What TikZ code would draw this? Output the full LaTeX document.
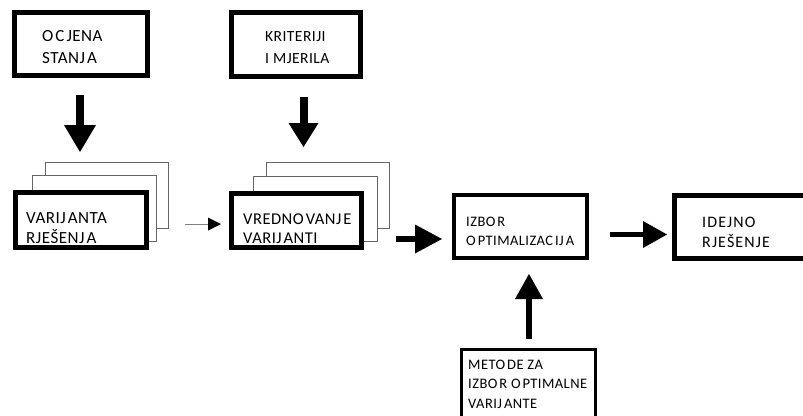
\documentclass[tikz,border=0pt]{standalone}
\usepackage{fontspec}
\setmainfont{Carlito}
\newfontfamily\boxfont[LetterSpace=3]{Carlito}
\newfontfamily\widefont[LetterSpace=7]{Carlito}
\usetikzlibrary{arrows.meta}
% small gap between letter groups
\newcommand{\gp}{\kern2pt}
\begin{document}
\begin{tikzpicture}[x=1pt,y=-1pt,
  box/.style={draw, fill=white, inner sep=0pt, anchor=north west},
  heavybox/.style={box, line width=5pt},
  midbox/.style={box, line width=4pt},
  lightbox/.style={box, line width=3pt},
  sheet/.style={box, line width=0.9pt, draw=black!60},
  txt/.style={anchor=base west, inner sep=0pt, align=left, font=\boxfont},
  fat/.style n args={3}{line width=#1,
    -{Triangle[length=#2, width=#3, line width=0pt]}},
  thin/.style={draw=black!50, line width=1pt,
    -{Triangle[length=13pt, width=13pt, line width=0pt, fill=black, color=black]}}]
\useasboundingbox (0,0) rectangle (803,415);
\clip (0,0) rectangle (803,415);

% top inputs (text nodes are placed by the baseline of their last line)
\node[heavybox, minimum width=133pt, minimum height=63pt] (ocjena) at (12,10) {};
\node[txt, font=\boxfont\fontsize{17}{21}\selectfont] (ocjenaT) at (42,63)
  {O\gp C\gp JENA\\STANJ\gp A};

\node[heavybox, minimum width=129pt, minimum height=64pt] (krit) at (229,10) {};
\node[txt, font=\boxfont\fontsize{15.5}{22}\selectfont] (kritT) at (265,63)
  {KRITERIJI\\I MJERILA};

% stacked sheets: variants
\node[sheet, minimum width=123pt, minimum height=66pt] (var3) at (45,162) {};
\node[sheet, minimum width=124pt, minimum height=66pt] (var2) at (32,175) {};
\node[heavybox, minimum width=131pt, minimum height=55pt] (var) at (12.5,190) {};
\node[txt, font=\boxfont\fontsize{17}{20}\selectfont] (varT) at (26,243)
  {VARIJ\gp ANTA\\RJEŠENJ\gp A};

% stacked sheets: evaluation
\node[sheet, minimum width=123pt, minimum height=66pt] (vre3) at (266,162) {};
\node[sheet, minimum width=124pt, minimum height=65pt] (vre2) at (253,176) {};
\node[heavybox, minimum width=129.5pt, minimum height=54.5pt] (vre) at (229,190.5) {};
\node[txt, font=\boxfont\fontsize{16.5}{19.5}\selectfont] (vreT) at (243,243.5)
  {VREDNO\gp VANJ\gp E\\VARIJ\gp ANTI};

% selection and result
\node[midbox, minimum width=133pt, minimum height=63pt] (izbor) at (452,193) {};
\node[txt, font=\boxfont\fontsize{14.5}{19}\selectfont] (izborT) at (466,245)
  {IZBO\gp R\\O\gp PTIMALIZAC\gp IJ\gp A};

\node[heavybox, minimum width=153pt, minimum height=63pt] (idejno) at (672,193) {};
\node[txt, font=\widefont\fontsize{16}{20}\selectfont] (idejnoT) at (702,247.5)
  {IDEJNO\\RJEŠENJE};

\node[lightbox, minimum width=134pt, minimum height=79pt] (metode) at (460,348) {};
\node[txt, font=\boxfont\fontsize{14.5}{19.5}\selectfont] (metodeT) at (468,408)
  {METO\gp DE ZA\\IZBO\gp R O\gp PTIMALNE\\VARIJ\gp ANTE};

% arrow end points
\coordinate (a1s) at (80,95);    \coordinate (a1e) at (80,152);
\coordinate (a2s) at (303.5,97); \coordinate (a2e) at (303.5,147);
\coordinate (a3s) at (396,239);  \coordinate (a3e) at (442,239);
\coordinate (a4s) at (610,234.5);\coordinate (a4e) at (667,234.5);
\coordinate (a5s) at (529,339);  \coordinate (a5e) at (529,274);
\coordinate (a6s) at (185,224);  \coordinate (a6e) at (221,224);

\draw[fat={8pt}{27pt}{32pt}] (a1s) -- (a1e);
\draw[fat={8pt}{24pt}{30pt}] (a2s) -- (a2e);
\draw[fat={6pt}{27pt}{29pt}] (a3s) -- (a3e);
\draw[fat={5pt}{24pt}{27pt}] (a4s) -- (a4e);
\draw[fat={6pt}{25pt}{28pt}] (a5s) -- (a5e);
\draw[thin] (a6s) -- (a6e);
\end{tikzpicture}
\end{document}
